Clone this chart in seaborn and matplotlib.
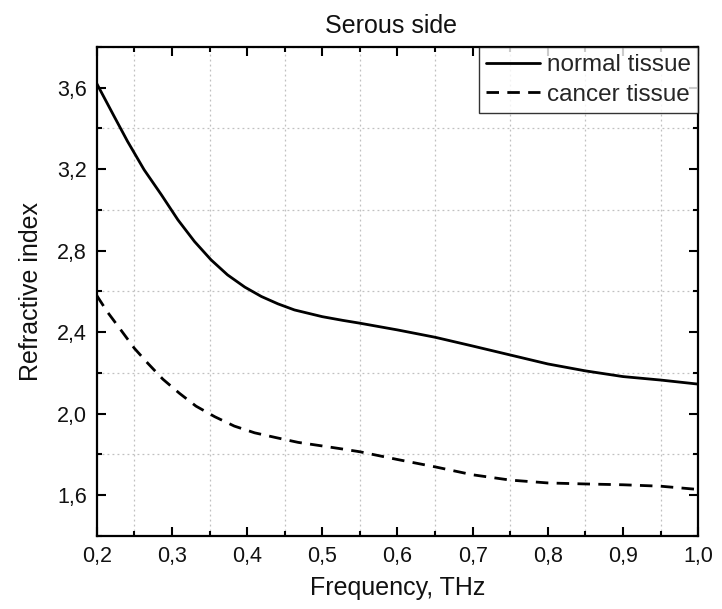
import matplotlib
matplotlib.use("Agg")
import matplotlib.pyplot as plt
import seaborn as sns
import pandas as pd
from matplotlib.ticker import MultipleLocator, FuncFormatter

freq_normal = [0.200, 0.223, 0.241, 0.263, 0.286, 0.308, 0.330, 0.352, 0.374, 0.397, 0.419, 0.441,
               0.463, 0.500, 0.527, 0.550, 0.600, 0.650, 0.700, 0.750, 0.800, 0.850, 0.900, 0.950, 1.000]
normal = [3.62, 3.46, 3.336, 3.197, 3.074, 2.951, 2.845, 2.755, 2.681, 2.621, 2.575, 2.539,
          2.509, 2.476, 2.458, 2.444, 2.411, 2.375, 2.332, 2.288, 2.244, 2.21, 2.182, 2.165, 2.145]
freq_cancer = [0.200, 0.214, 0.232, 0.250, 0.268, 0.288, 0.310, 0.332, 0.357, 0.383, 0.410, 0.439,
               0.468, 0.499, 0.526, 0.550, 0.600, 0.650, 0.700, 0.750, 0.800, 0.850, 0.900, 0.950, 1.000]
cancer = [2.58, 2.50, 2.411, 2.321, 2.247, 2.169, 2.10, 2.037, 1.985, 1.939, 1.906, 1.882,
          1.859, 1.842, 1.827, 1.813, 1.775, 1.739, 1.70, 1.674, 1.66, 1.655, 1.651, 1.644, 1.628]
labels = ["normal tissue", "cancer tissue"]

df = pd.concat([
    pd.DataFrame({"freq": freq_normal, "n": normal, "tissue": labels[0]}),
    pd.DataFrame({"freq": freq_cancer, "n": cancer, "tissue": labels[1]}),
])

sns.set_theme(style="white")
plt.rcParams["font.family"] = ["Liberation Sans", "DejaVu Sans"]

fig = plt.figure(figsize=(7.22, 6.09), dpi=100)
ax = fig.add_axes([0.134, 0.120, 0.833, 0.803])

sns.lineplot(data=df, x="freq", y="n", style="tissue", style_order=labels,
             dashes={labels[0]: "", labels[1]: (4.5, 3)}, color="black",
             linewidth=2, ax=ax, legend=False, estimator=None, sort=True)

ax.set_xlim(0.2, 1.0)
ax.set_ylim(1.4, 3.8)
ax.xaxis.set_major_locator(MultipleLocator(0.1))
ax.xaxis.set_minor_locator(MultipleLocator(0.05))
ax.yaxis.set_major_locator(MultipleLocator(0.4))
ax.yaxis.set_minor_locator(MultipleLocator(0.2))
ax.set_yticks([1.6, 2.0, 2.4, 2.8, 3.2, 3.6])
ax.xaxis.set_major_formatter(FuncFormatter(lambda v, p: f"{v:.1f}".replace(".", ",")))
ax.yaxis.set_major_formatter(FuncFormatter(lambda v, p: f"{v:.1f}".replace(".", ",")))

ax.grid(False)
ax.grid(which="minor", linestyle=(0, (1.5, 2.5)), color="#c0c0c0", linewidth=0.9)

for s in ax.spines.values():
    s.set_visible(True)
    s.set_color("black")
    s.set_linewidth(1.6)

ax.tick_params(which="both", direction="in", top=True, right=True, bottom=True, left=True,
               width=1.5, color="black", labelsize=15.5, labelcolor="#111111", pad=7)
ax.tick_params(which="major", length=6.5)
ax.tick_params(which="minor", length=3.5)

ax.set_xlabel("Frequency, THz", fontsize=18, labelpad=7, color="#111111")
ax.set_ylabel("Refractive index", fontsize=18, labelpad=10, color="#111111")
ax.set_title("Serous side", fontsize=18, pad=10, color="#111111", x=0.49)

leg = ax.legend(handles=ax.get_lines()[:2], labels=labels, loc="upper right",
                borderaxespad=0, fontsize=17.5, frameon=True, fancybox=False,
                handlelength=2.2, handletextpad=0.3, borderpad=0.3, labelspacing=0.3)
leg.get_frame().set_edgecolor("black")
leg.get_frame().set_linewidth(1.0)

fig.savefig("out.png", dpi=100)
